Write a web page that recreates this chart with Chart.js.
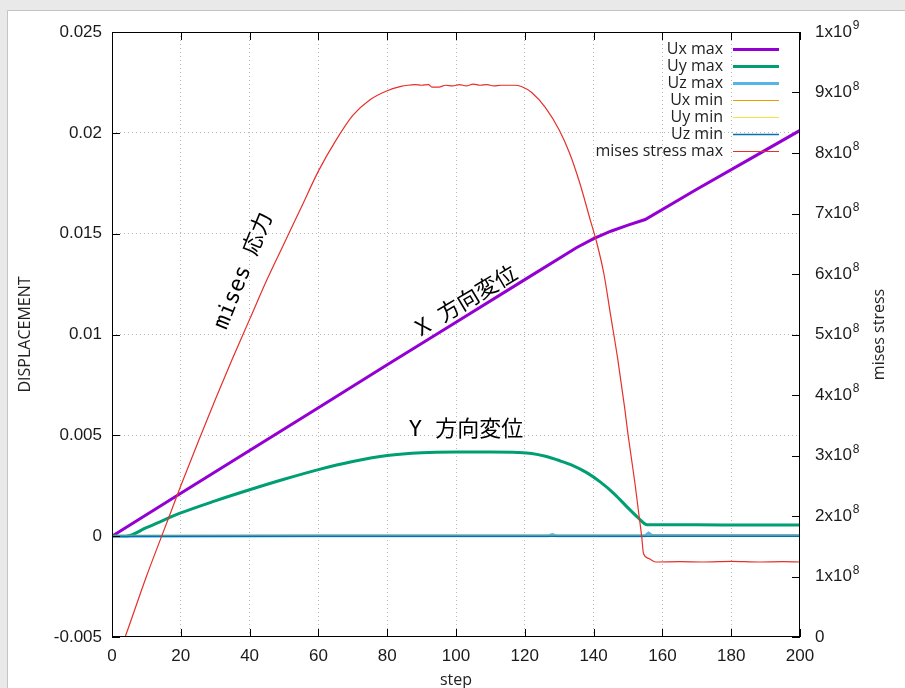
<!DOCTYPE html>
<html>
<head>
<meta charset="utf-8">
<script src="https://cdn.jsdelivr.net/npm/chart.js@4.4.0/dist/chart.umd.min.js"></script>
<style>
  html, body { margin: 0; padding: 0; background: #fff; }
  #wrap { width: 905px; height: 688px; }
</style>
</head>
<body>
<div id="wrap"><canvas id="plot" width="905" height="688"></canvas></div>
<script>
// x axis: step
const uxSteps = [0, 20, 40, 60, 80, 100, 120, 135, 140, 145, 150, 155, 170, 185, 200];
const uxMax = [0, 0.00213, 0.00425, 0.00637, 0.0085, 0.01061, 0.01272, 0.0143, 0.01475, 0.01512, 0.01542, 0.0157, 0.0172, 0.01866, 0.02012];

const uySteps = [0, 4, 10, 20, 30, 40, 50, 60, 70, 80, 90, 100, 110, 118, 122, 126, 130, 134, 138, 142, 146, 150, 153, 155, 156, 170, 185, 200];
const uyMax = [0, 0, 0.00042, 0.00115, 0.00175, 0.0023, 0.00282, 0.0033, 0.0037, 0.004, 0.00414, 0.00417, 0.00417, 0.00415, 0.0041, 0.00396, 0.00375, 0.0035, 0.00315, 0.00268, 0.0021, 0.0014, 0.0009, 0.0006, 0.00056, 0.00056, 0.00055, 0.00055];

const uzSteps = [0, 60, 127, 128, 129, 155, 156, 157, 200];
const uzMax = [0, 0.00002, 0.00002, 0.00008, 0.00002, 0.00002, 0.00015, 0.00003, 0.00003];

const minSteps = [0, 200];
const uxMin = [0, 0];
const uyMin = [0, 0];
const uzMin = [0, 0];

const misesSteps = [0, 4, 10, 15, 20, 25, 30, 35, 40, 45, 50, 55, 60, 65, 70, 75, 80, 84, 86, 88,
  90, 92, 93, 95, 97, 99, 101, 103, 105, 107, 109, 111, 113, 115, 117, 119, 122, 126, 130, 133,
  136, 139, 141, 143, 145, 147, 149, 150, 152, 153, 154, 154.5, 156, 158, 165, 172, 180, 188, 195, 200];
const misesMax = [-0.58e8, 0.03e8, 1.0e8, 1.75e8, 2.5e8, 3.22e8, 3.92e8, 4.6e8, 5.25e8, 5.9e8,
  6.5e8, 7.1e8, 7.7e8, 8.2e8, 8.62e8, 8.88e8, 9.03e8, 9.1e8, 9.12e8, 9.13e8,
  9.12e8, 9.13e8, 9.09e8, 9.09e8, 9.12e8, 9.11e8, 9.13e8, 9.11e8, 9.14e8, 9.12e8,
  9.13e8, 9.11e8, 9.12e8, 9.12e8, 9.12e8, 9.1e8, 9.0e8, 8.75e8, 8.38e8, 8.0e8,
  7.5e8, 6.9e8, 6.5e8, 6.0e8, 5.3e8, 4.6e8, 3.8e8, 3.35e8, 2.55e8, 2.1e8,
  1.65e8, 1.38e8, 1.3e8, 1.24e8, 1.245e8, 1.24e8, 1.25e8, 1.24e8, 1.245e8, 1.24e8];

const seriesNames = ["Ux max", "Uy max", "Uz max", "Ux min", "Uy min", "Uz min", "mises stress max"];

const SANS = '"Liberation Sans", Arial, sans-serif';
const UI = '"Open Sans", "Liberation Sans", sans-serif';
const NOTE = '"DejaVu Sans Mono", "Noto Sans CJK JP", monospace';

function pts(xs, ys) {
  return xs.map((x, i) => ({ x: x, y: ys[i] }));
}

function series(i, xs, ys, color, width, axis, smooth) {
  return {
    label: seriesNames[i],
    data: pts(xs, ys),
    borderColor: color,
    borderWidth: width,
    pointRadius: 0,
    fill: false,
    yAxisID: axis,
    order: 10 - i,
    cubicInterpolationMode: smooth ? "monotone" : "default",
    tension: 0
  };
}

function gridColor(ctx, lo, hi) {
  const v = ctx.tick ? ctx.tick.value : null;
  if (v === null || Math.abs(v - lo) < 1e-9 || Math.abs(v - hi) < 1e-9) return "rgba(0,0,0,0)";
  return "#b8b8b8";
}

const gnuplotFrame = {
  id: "gnuplotFrame",
  beforeDraw(chart) {
    const c = chart.ctx;
    c.save();
    c.fillStyle = "#e9e9e9";
    c.fillRect(0, 0, chart.width, chart.height);
    c.fillStyle = "#ffffff";
    c.fillRect(8, 11, chart.width - 8, chart.height - 11);
    c.strokeStyle = "#c4c4c4";
    c.lineWidth = 1;
    c.beginPath();
    c.moveTo(7.5, 10.5); c.lineTo(chart.width, 10.5);
    c.moveTo(7.5, 10.5); c.lineTo(7.5, chart.height);
    c.stroke();
    c.restore();
  },
  afterDraw(chart) {
    const c = chart.ctx;
    const a = chart.chartArea;
    const sx = chart.scales.x, sy = chart.scales.y, sy2 = chart.scales.y2;
    c.save();

    // border
    c.strokeStyle = "#000";
    c.lineWidth = 1;
    c.strokeRect(Math.round(a.left) + 0.5, Math.round(a.top) + 0.5,
      Math.round(a.right - a.left) - 1, Math.round(a.bottom - a.top) - 1);

    // inward ticks
    const tl = 8;
    c.beginPath();
    sx.ticks.forEach(t => {
      const px = Math.round(sx.getPixelForValue(t.value)) + 0.5;
      c.moveTo(px, a.bottom); c.lineTo(px, a.bottom - tl);
      c.moveTo(px, a.top); c.lineTo(px, a.top + tl);
    });
    sy.ticks.forEach(t => {
      const py = Math.round(sy.getPixelForValue(t.value)) + 0.5;
      c.moveTo(a.left, py); c.lineTo(a.left + tl, py);
    });
    sy2.ticks.forEach(t => {
      const py = Math.round(sy2.getPixelForValue(t.value)) + 0.5;
      c.moveTo(a.right, py); c.lineTo(a.right - tl, py);
    });
    c.stroke();

    // right axis labels with superscript exponent
    c.fillStyle = "#1a1a1a";
    c.textBaseline = "middle";
    c.textAlign = "left";
    sy2.ticks.forEach(t => {
      const py = sy2.getPixelForValue(t.value);
      const x0 = a.right + 15;
      c.font = "17px " + SANS;
      if (t.value === 0) { c.fillText("0", x0, py); return; }
      const e = Math.floor(Math.log10(t.value) + 1e-9);
      const m = Math.round(t.value / Math.pow(10, e));
      const base = m + "x10";
      c.fillText(base, x0, py);
      const w = c.measureText(base).width;
      c.font = "12px " + SANS;
      c.fillText(String(e), x0 + w + 1, py - 6);
    });

    // axis titles
    c.fillStyle = "#222";
    c.font = "16px " + UI;
    c.textAlign = "center";
    c.fillText("step", (a.left + a.right) / 2, 680);
    c.save();
    c.translate(25, (a.top + a.bottom) / 2);
    c.rotate(-Math.PI / 2);
    c.fillText("DISPLACEMENT", 0, 0);
    c.restore();
    c.save();
    c.translate(879, (a.top + a.bottom) / 2);
    c.rotate(-Math.PI / 2);
    c.fillText("mises stress", 0, 0);
    c.restore();

    // annotations
    c.fillStyle = "#000";
    c.font = "22px " + NOTE;
    c.save();
    c.translate(244, 271);
    c.rotate(-68 * Math.PI / 180);
    c.fillText("mises 応力", 0, 0);
    c.restore();
    c.save();
    c.translate(467, 302);
    c.rotate(-31 * Math.PI / 180);
    c.fillText("X 方向変位", 0, 0);
    c.restore();
    c.fillText("Y 方向変位", 466, 430);

    // key
    c.font = "16px " + UI;
    c.textAlign = "right";
    chart.data.datasets.forEach((ds, i) => {
      const y = 49 + i * 17;
      c.fillStyle = "#222";
      c.fillText(ds.label, 723, y);
      c.strokeStyle = ds.borderColor;
      c.lineWidth = ds.borderWidth;
      c.beginPath();
      c.moveTo(733, y + 0.5); c.lineTo(779, y + 0.5);
      c.stroke();
    });
    c.restore();
  }
};

const ctx = document.getElementById("plot").getContext("2d");
new Chart(ctx, {
  type: "line",
  data: {
    datasets: [
      series(0, uxSteps, uxMax, "#9400D3", 3, "y", false),
      series(1, uySteps, uyMax, "#009E73", 3, "y", true),
      series(2, uzSteps, uzMax, "#56B4E9", 3, "y", false),
      series(3, minSteps, uxMin, "#E69F00", 1.2, "y", false),
      series(4, minSteps, uyMin, "#F0E442", 1.2, "y", false),
      series(5, minSteps, uzMin, "#0072B2", 1.5, "y", false),
      series(6, misesSteps, misesMax, "#E5302A", 1.2, "y2", true)
    ]
  },
  options: {
    responsive: false,
    animation: false,
    layout: { padding: { top: 32, left: 0, right: 0, bottom: 0 } },
    plugins: { legend: { display: false }, tooltip: { enabled: false } },
    scales: {
      x: {
        type: "linear",
        min: 0, max: 200,
        ticks: { stepSize: 20, padding: 9, color: "#1a1a1a", font: { family: SANS, size: 17 } },
        grid: { color: c => gridColor(c, 0, 200), drawTicks: false, lineWidth: 1 },
        border: { display: false, dash: [1, 3] },
        afterFit: s => { s.height = 51; s.paddingLeft = 0; s.paddingRight = 0; }
      },
      y: {
        position: "left",
        min: -0.005, max: 0.025,
        ticks: {
          stepSize: 0.005, padding: 10, color: "#1a1a1a", font: { family: SANS, size: 17 },
          callback: v => String(Number(v.toFixed(3)))
        },
        grid: { color: c => gridColor(c, -0.005, 0.025), drawTicks: false, lineWidth: 1 },
        border: { display: false, dash: [1, 3] },
        afterFit: s => { s.width = 112; s.paddingTop = 0; s.paddingBottom = 0; }
      },
      y2: {
        position: "right",
        min: 0, max: 1e9,
        ticks: { stepSize: 1e8, display: false },
        grid: { display: false, drawTicks: false },
        border: { display: false },
        afterFit: s => { s.width = 105; s.paddingTop = 0; s.paddingBottom = 0; }
      }
    }
  },
  plugins: [gnuplotFrame]
});
</script>
</body>
</html>
